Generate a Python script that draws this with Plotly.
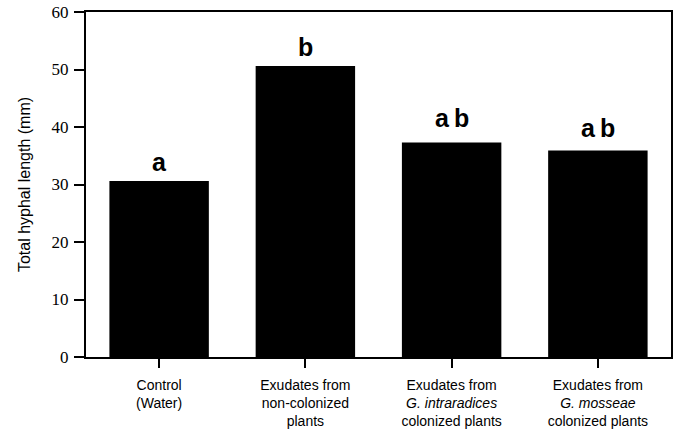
import plotly.graph_objects as go

# Treatment groups (x categories) and mean total hyphal length (mm)
categories = ["Control<br>(Water)",
              "Exudates from<br>non-colonized<br>plants",
              "Exudates from<br><i>G. intraradices</i><br>colonized plants",
              "Exudates from<br><i>G. mosseae</i><br>colonized plants"]
hyphal_length = [30.6, 50.6, 37.3, 35.9]
# Significance letters shown above each bar
sig_letters = ["a", "b", "a\u2009b", "a\u2009b"]
y_ticks = [0, 10, 20, 30, 40, 50, 60]

# gap (px) between each bar top and its letter
label_gap_px = [3, 3, 9, 7]

x_pos = list(range(len(categories)))

fig = go.Figure()
fig.add_trace(go.Bar(
    x=x_pos, y=hyphal_length, width=0.68,
    marker=dict(color="black", line=dict(width=0)),
    showlegend=False, hoverinfo="skip",
))

for xi, yi, txt, gap in zip(x_pos, hyphal_length, sig_letters, label_gap_px):
    fig.add_annotation(
        x=xi, y=yi, text=f"<b>{txt}</b>", showarrow=False,
        yanchor="bottom", yshift=gap,
        font=dict(family="Liberation Sans, Arial, sans-serif", size=25, color="black"),
    )

fig.update_layout(
    width=675, height=433,
    margin=dict(l=86, r=4, t=12, b=76),
    paper_bgcolor="white", plot_bgcolor="white",
)
fig.update_xaxes(
    range=[-0.5, 3.5], tickmode="array", tickvals=x_pos, ticktext=categories,
    ticks="outside", ticklen=9, tickwidth=2, tickcolor="black",
    ticklabelstandoff=5, automargin=False,
    showline=True, linewidth=2, linecolor="black", mirror=True,
    showgrid=False, zeroline=False,
    tickfont=dict(family="Liberation Sans, Arial, sans-serif", size=14, color="black"),
)
fig.update_yaxes(
    range=[0, 60], tickmode="array", tickvals=y_ticks,
    ticks="outside", ticklen=10, tickwidth=2, tickcolor="black",
    ticklabelstandoff=2, automargin=False,
    showline=True, linewidth=2, linecolor="black", mirror=True,
    showgrid=False, zeroline=False,
    tickfont=dict(family="Liberation Serif, serif", size=17, color="black"),
    title=dict(text="Total hyphal length (mm)",
               font=dict(family="Liberation Sans, Arial, sans-serif", size=16, color="black"),
               standoff=17),
)

fig.write_html("out.html")
